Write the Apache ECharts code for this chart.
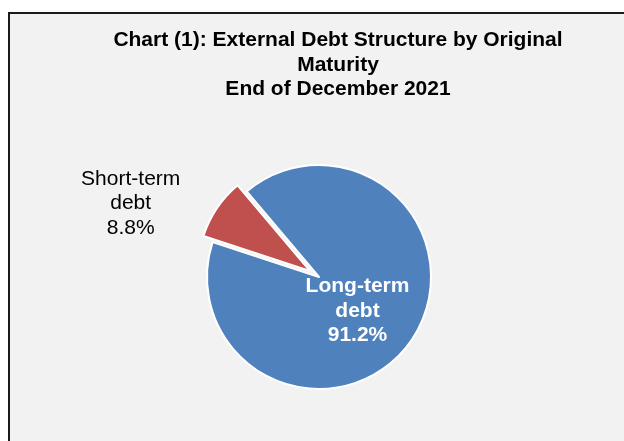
<!DOCTYPE html>
<html>
<head>
<meta charset="utf-8">
<script src="https://cdn.jsdelivr.net/npm/echarts@6/dist/echarts.min.js"></script>
<style>
  html, body { margin: 0; padding: 0; background: #ffffff; }
  #chart { width: 624px; height: 441px; }
</style>
</head>
<body>
<div id="chart"></div>
<script>
// Debt structure by original maturity, end of December 2021 (% of total)
const categories = ['Long-term\ndebt', 'Short-term\ndebt'];
const shares = [91.2, 8.8];
const sliceColors = ['#4F81BD', '#C0504D'];
const titleLines = [
  'Chart (1): External Debt Structure by Original',
  'Maturity',
  'End of December 2021'
];

const FONT = '"Liberation Sans", Arial, sans-serif';
const pct = v => v.toFixed(1) + '%';

const chart = echarts.init(document.getElementById('chart'), null, { renderer: 'canvas' });

chart.setOption({
  animation: false,
  backgroundColor: '#ffffff',
  graphic: [
    {
      type: 'rect',
      z: -10,
      shape: { x: 9, y: 13, width: 700, height: 500 },
      style: { fill: '#F2F2F2', stroke: '#1a1a1a', lineWidth: 2 }
    },
    {
      type: 'text',
      z: 10,
      style: {
        x: 338,
        y: 28.25,
        text: titleLines.join('\n'),
        align: 'center',
        verticalAlign: 'top',
        font: 'bold 21px ' + FONT,
        lineHeight: 24.5,
        fill: '#000000'
      }
    },
    {
      // label for the pulled-out short-term slice, placed to its left
      type: 'text',
      z: 10,
      style: {
        x: 130.7,
        y: 203.5,
        text: categories[1] + '\n' + pct(shares[1]),
        align: 'center',
        verticalAlign: 'middle',
        font: '21px ' + FONT,
        lineHeight: 24.3,
        fill: '#000000'
      }
    }
  ],
  series: [{
    type: 'pie',
    center: [319, 277],
    radius: 112,
    startAngle: 130.2,
    clockwise: true,
    selectedMode: 'single',
    selectedOffset: 11,
    avoidLabelOverlap: false,
    emphasis: { disabled: true },
    itemStyle: { borderColor: '#ffffff', borderWidth: 2 },
    labelLine: { show: false },
    label: {
      show: true,
      position: 'inside',
      fontFamily: FONT,
      fontSize: 21,
      lineHeight: 24.3,
      align: 'center',
      formatter: p => p.name + '\n' + pct(p.value)
    },
    labelLayout: p => (p.dataIndex === 0 ? {
      x: 357.5,
      y: 311,
      align: 'center',
      verticalAlign: 'middle'
    } : {}),
    data: categories.map((name, i) => ({
      name,
      value: shares[i],
      selected: i === 1,
      itemStyle: { color: sliceColors[i] },
      label: i === 0
        ? { show: true, color: '#ffffff', fontWeight: 'bold' }
        : { show: false }
    }))
  }]
});
</script>
</body>
</html>
